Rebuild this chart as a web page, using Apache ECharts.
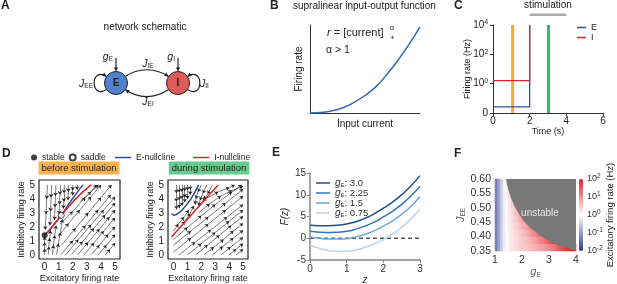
<!DOCTYPE html>
<html>
<head>
<meta charset="utf-8">
<script src="https://cdn.jsdelivr.net/npm/echarts@6/dist/echarts.min.js"></script>
<style>
html, body { margin: 0; padding: 0; background: #fff; }
#main { width: 617px; height: 284px; }
</style>
</head>
<body>
<div id="main"></div>
<script>
// ---- B: supralinear input-output curve (arbitrary units)
const inputCurrent = [0, 0.1, 0.2, 0.3, 0.4, 0.5, 0.6, 0.7, 0.8, 0.9, 1.0];
const firingRateB = [0, 0.005, 0.025, 0.06, 0.12, 0.2, 0.3, 0.44, 0.6, 0.78, 0.98];

// ---- C: firing-rate time course (Hz); the bottom of the axis (1e-2) is labelled 0
const timeE = [0, 2, 2];
const rateE = [0.026, 0.026, 10000];
const timeI = [0, 2, 2];
const rateI = [1.6, 1.6, 10000];
const markerTimes = [1.07, 3.03];
const markerColors = ['#f6a83b', '#2fba6c'];
const stimWindow = [2, 4];
const rateRange = [0.01, 10000];
const rateTickExp = [-2, 0, 2, 4];

// ---- D: phase planes
const flowTicks = [0, 1, 2, 3, 4, 5];
const stablePt = [[0, 1.4]];
const saddlePt = [[1.18, 2.82]];
const eNullBefore = [[0, 1.4], [0.5, 1.95], [1.18, 2.82], [1.9, 3.9], [2.72, 5.0]];
const iNullBefore = [[0, 1.4], [0.5, 1.97], [1.18, 2.82], [2.0, 3.78], [2.7, 4.48], [3.3, 5.0]];
const eNullDuring = [[-0.15, 2.95], [0.05, 2.83], [0.35, 2.98], [0.7, 3.3], [1.25, 4.0], [1.8, 5.0]];
const iNullDuring = [[-0.15, 1.27], [3.2, 5.0]];

const flowBefore = [
  [[0.2, 5.0], [0.15, 4.0], [0.1, 2.9], [0.04, 1.8]],
  [[0.5, 5.0], [0.46, 4.1], [0.42, 3.1], [0.38, 2.1]],
  [[0.8, 5.0], [0.77, 4.2], [0.74, 3.4], [0.7, 2.5]],
  [[1.1, 5.0], [1.08, 4.3], [1.06, 3.6], [1.03, 2.9]],
  [[1.4, 5.0], [1.38, 4.4], [1.36, 3.8], [1.33, 3.3]],
  [[1.7, 5.0], [1.68, 4.5], [1.66, 3.9]],
  [[2.0, 5.0], [1.99, 4.6], [1.98, 4.25]],
  [[2.3, 5.0], [2.3, 4.65]],
  [[0.0, 0.0], [0.0, 0.45], [0.0, 0.9], [0.0, 1.3]],
  [[0.25, 0.0], [0.3, 0.6], [0.36, 1.2], [0.42, 1.75]],
  [[0.55, 0.0], [0.63, 0.7], [0.72, 1.4], [0.82, 2.1]],
  [[0.85, 0.0], [0.98, 0.8], [1.12, 1.6], [1.27, 2.55]],
  [[1.15, 0.0], [2.0, 1.0], [2.9, 2.1], [3.8, 3.2], [4.7, 4.3]],
  [[1.5, 0.0], [2.4, 1.1], [3.3, 2.15], [4.2, 3.2], [5.0, 4.15]],
  [[1.9, 0.0], [2.7, 0.95], [3.5, 1.9], [4.3, 2.85], [5.0, 3.7]],
  [[2.35, 0.0], [3.1, 0.9], [3.9, 1.85], [4.6, 2.7], [5.0, 3.2]],
  [[2.8, 0.0], [3.5, 0.85], [4.2, 1.7], [5.0, 2.65]],
  [[3.3, 0.0], [3.9, 0.7], [4.5, 1.45], [5.0, 2.0]],
  [[3.8, 0.0], [4.4, 0.7], [5.0, 1.45]],
  [[4.3, 0.0], [4.65, 0.4], [5.0, 0.85]],
  [[0.95, 1.3], [1.7, 2.25], [2.5, 3.2], [3.3, 4.15], [4.0, 5.0]],
  [[1.1, 2.2], [2.0, 3.1], [2.9, 4.1], [3.7, 5.0]],
  [[1.2, 0.7], [2.2, 1.9], [3.1, 3.0], [4.0, 4.1], [4.75, 5.0]],
  [[2.5, 3.8], [3.3, 4.5], [3.8, 5.0]]
];
const flowDuring = [
  [[0.2, 5.0], [0.2, 4.4], [0.2, 3.8], [0.2, 3.25]],
  [[0.4, 5.0], [0.4, 4.45], [0.4, 3.9], [0.4, 3.35]],
  [[0.6, 5.0], [0.6, 4.5], [0.6, 4.0], [0.6, 3.5]],
  [[0.8, 5.0], [0.8, 4.55], [0.8, 4.1], [0.8, 3.75]],
  [[1.0, 5.0], [1.0, 4.6], [1.0, 4.0]],
  [[1.2, 5.0], [1.2, 4.65], [1.2, 4.3]],
  [[2.0, 5.0], [1.75, 4.5], [1.6, 4.0], [1.55, 3.6]],
  [[2.4, 5.0], [2.1, 4.4], [1.9, 3.9], [1.8, 3.5]],
  [[2.8, 5.0], [2.45, 4.35], [2.2, 3.95], [2.1, 3.85]],
  [[0.0, 1.7], [0.35, 2.2], [0.75, 2.7], [1.1, 3.2]],
  [[0.4, 1.85], [0.8, 2.4], [1.2, 2.95], [1.45, 3.5]],
  [[0.0, 0.2], [1.25, 1.2], [2.5, 2.2], [3.75, 3.2], [5.0, 4.2]],
  [[0.0, 0.7], [1.25, 1.7], [2.5, 2.7], [3.75, 3.7], [5.0, 4.7]],
  [[0.0, 1.1], [1.0, 1.95], [2.0, 2.8], [3.0, 3.6], [4.2, 4.5], [4.9, 5.0]],
  [[0.4, 0.0], [1.55, 0.9], [2.7, 1.8], [3.85, 2.7], [5.0, 3.6]],
  [[1.0, 0.0], [2.0, 0.8], [3.0, 1.6], [4.0, 2.4], [5.0, 3.2]],
  [[1.6, 0.0], [2.45, 0.7], [3.3, 1.4], [4.15, 2.1], [5.0, 2.75]],
  [[2.2, 0.0], [2.9, 0.55], [3.6, 1.1], [4.3, 1.7], [5.0, 2.25]],
  [[2.8, 0.0], [3.55, 0.6], [4.3, 1.2], [5.0, 1.75]],
  [[3.4, 0.0], [4.1, 0.55], [5.0, 1.25]],
  [[4.0, 0.0], [4.5, 0.4], [5.0, 0.8]],
  [[4.5, 0.0], [5.0, 0.4]],
  [[1.8, 3.0], [2.6, 3.65], [3.4, 4.2], [4.2, 4.6], [5.0, 4.9]],
  [[2.5, 4.1], [3.2, 4.5], [4.0, 4.8], [4.4, 5.0]]
];

// ---- E: F(z) for several g_E
const zValues = [0, 0.25, 0.5, 0.75, 1, 1.25, 1.5, 1.75, 2, 2.25, 2.5, 2.75, 3];
const fG300 = [3.0, 2.9, 2.9, 3.0, 3.3, 3.8, 4.6, 5.6, 6.9, 8.3, 10.0, 12.0, 14.4];
const fG225 = [1.6, 1.4, 1.3, 1.4, 1.6, 2.1, 2.8, 3.7, 4.9, 6.2, 7.8, 9.7, 11.9];
const fG150 = [0.3, 0.0, -0.2, -0.2, -0.1, 0.3, 0.9, 1.7, 2.8, 4.0, 5.5, 7.3, 9.6];
const fG075 = [-1.6, -2.3, -2.8, -3.0, -3.0, -2.7, -2.1, -1.3, -0.3, 1.0, 2.5, 4.4, 6.8];
const eNames = ['gE: 3.0', 'gE: 2.25', 'gE: 1.5', 'gE: 0.75'];
const eColors = ['#1d4f8c', '#2f77b8', '#6ea6d6', '#b9d6ee'];

// ---- F: log10 excitatory rate over (g_E, J_EE); rows bottom -> top
const gCenters = ['1.05', '1.15', '1.25', '1.35', '1.45', '1.55', '1.65', '1.75', '1.85', '1.95',
  '2.05', '2.15', '2.25', '2.35', '2.45', '2.55', '2.65', '2.75', '2.85', '2.95',
  '3.05', '3.15', '3.25', '3.35', '3.45', '3.55', '3.65', '3.75', '3.85', '3.95'];
const jCenters = ['0.3625', '0.3875', '0.4125', '0.4375', '0.4625', '0.4875', '0.5125', '0.5375', '0.5625', '0.5875'];
const logRate = [
  [-1.3, -0.95, -0.5, -0.15, 0.05, 0.16, 0.24, 0.3, 0.36, 0.42, 0.47, 0.52, 0.57, 0.62, 0.68, 0.74, 0.8, 0.87, 0.94, 1.02, 1.1, 1.2, 1.3, 1.42, 1.54, 1.66, 1.78, 1.88, 1.95, 2.0],
  [-1.3, -0.95, -0.5, -0.15, 0.05, 0.16, 0.24, 0.31, 0.37, 0.43, 0.5, 0.57, 0.64, 0.72, 0.81, 0.91, 1.02, 1.14, 1.27, 1.41, 1.55, 1.68, 1.8],
  [-1.3, -0.95, -0.5, -0.15, 0.05, 0.16, 0.25, 0.33, 0.41, 0.49, 0.58, 0.68, 0.79, 0.91, 1.04, 1.18, 1.33, 1.47],
  [-1.3, -0.95, -0.5, -0.15, 0.05, 0.17, 0.28, 0.38, 0.48, 0.59, 0.71, 0.85, 1.0, 1.15, 1.3],
  [-1.3, -0.95, -0.5, -0.15, 0.07, 0.2, 0.32, 0.44, 0.58, 0.74, 0.91, 1.06],
  [-1.3, -0.95, -0.5, -0.15, 0.08, 0.23, 0.37, 0.52, 0.69, 0.86],
  [-1.3, -0.95, -0.5, -0.14, 0.1, 0.27, 0.44, 0.61],
  [-1.3, -0.95, -0.5, -0.13, 0.12, 0.32, 0.5],
  [-1.3, -0.95, -0.5, -0.12, 0.15, 0.37],
  [-1.3, -0.95, -0.5, -0.1, 0.18, 0.37]
];
const unstableG = [1.41, 1.5, 1.67, 1.85, 2.04, 2.3, 2.56, 2.85, 3.15, 3.45, 3.67, 4.0];
const unstableJ = [0.60, 0.56, 0.517, 0.485, 0.458, 0.432, 0.4125, 0.393, 0.378, 0.366, 0.36, 0.35];

const FONT = 'Liberation Sans, Arial, sans-serif';
const INK = '#222';

const zip = (a, b) => a.map((v, i) => [v, b[i]]);
// panel C is plotted on a decade axis: the y value is log10(rate)
const zipLog = (t, r) => t.map((v, i) => [v, Math.log10(r[i])]);
const toSegments = lines => {
  const out = [];
  lines.forEach(pts => {
    for (let i = 1; i < pts.length; i++) out.push({ coords: [pts[i - 1], pts[i]] });
  });
  return out;
};

const heatData = [];
logRate.forEach((row, j) => row.forEach((v, i) => heatData.push([i, j, v])));

function arrowHead(x, y, angle, size) {
  const s = size || 4.5;
  const a1 = angle + Math.PI * 0.85, a2 = angle - Math.PI * 0.85;
  return {
    type: 'polygon', silent: true, z: 100,
    shape: { points: [[x, y], [x + s * Math.cos(a1), y + s * Math.sin(a1)], [x + s * Math.cos(a2), y + s * Math.sin(a2)]] },
    style: { fill: INK }
  };
}
const txt = (x, y, text, extra, rotation) => ({
  type: 'text', x: x, y: y, silent: true, z: 100, rotation: rotation || 0,
  style: Object.assign({ text: text, fill: INK, fontSize: 10, fontFamily: FONT, align: 'left', verticalAlign: 'middle' }, extra || {})
});
const subRich = {
  i: { fontStyle: 'italic', fontSize: 10.5, fontFamily: FONT, fill: INK, color: INK },
  s: { fontSize: 6.5, fontFamily: FONT, verticalAlign: 'bottom', fill: INK, color: INK, padding: [5, 0, 0, 0] }
};
const curve = (x1, y1, c1x, c1y, c2x, c2y, x2, y2) => ({
  type: 'bezierCurve', silent: true, z: 100,
  shape: { x1: x1, y1: y1, cpx1: c1x, cpy1: c1y, cpx2: c2x, cpy2: c2y, x2: x2, y2: y2 },
  style: { stroke: INK, lineWidth: 1.2, fill: null }
});

const graphics = [
  // panel letters and titles
  txt(1, 6, 'A', { fontSize: 12, fontWeight: 'bold' }),
  txt(270, 6, 'B', { fontSize: 12, fontWeight: 'bold' }),
  txt(454, 6, 'C', { fontSize: 12, fontWeight: 'bold' }),
  txt(2, 154, 'D', { fontSize: 12, fontWeight: 'bold' }),
  txt(272, 153, 'E', { fontSize: 12, fontWeight: 'bold' }),
  txt(454, 154, 'F', { fontSize: 12, fontWeight: 'bold' }),
  txt(145, 27, 'network schematic', { align: 'center' }),
  txt(293, 6, 'supralinear input-output function'),
  // schematic
  curve(125.4, 76.4, 138, 67.5, 155, 67.5, 168.6, 76.4),
  arrowHead(168.6, 76.4, Math.atan2(8.9, 13.6)),
  curve(168.6, 89.6, 155, 99, 138, 99, 125.4, 89.6),
  arrowHead(125.4, 89.6, Math.atan2(-9.4, -12.6)),
  curve(106.6, 89.6, 90, 100, 90, 66, 106.6, 76.4),
  arrowHead(106.6, 76.4, Math.atan2(10.4, 16.6)),
  curve(187.4, 89.6, 204, 100, 204, 66, 187.4, 76.4),
  arrowHead(187.4, 76.4, Math.atan2(10.4, -16.6)),
  { type: 'line', silent: true, z: 100, shape: { x1: 116, y1: 58, x2: 116, y2: 68 }, style: { stroke: INK, lineWidth: 1.2 } },
  arrowHead(116, 71.5, Math.PI / 2),
  { type: 'line', silent: true, z: 100, shape: { x1: 178, y1: 58, x2: 178, y2: 68 }, style: { stroke: INK, lineWidth: 1.2 } },
  arrowHead(178, 71.5, Math.PI / 2),
  { type: 'circle', silent: true, z: 100, shape: { cx: 116, cy: 83, r: 11.5 }, style: { fill: '#5282cc', stroke: INK, lineWidth: 1 } },
  { type: 'circle', silent: true, z: 100, shape: { cx: 178, cy: 83, r: 11.5 }, style: { fill: '#e05a5c', stroke: INK, lineWidth: 1 } },
  txt(116, 83, 'E', { align: 'center', fontWeight: 'bold', fontSize: 10 }),
  txt(178, 83, 'I', { align: 'center', fontWeight: 'bold', fontSize: 10 }),
  txt(113, 57, '{i|g}{s|E}', { align: 'right', rich: subRich }),
  txt(175, 57, '{i|g}{s|I}', { align: 'right', rich: subRich }),
  txt(148, 64, '{i|J}{s|IE}', { align: 'center', rich: subRich }),
  txt(148, 102, '{i|J}{s|EI}', { align: 'center', rich: subRich }),
  txt(93, 84, '{i|J}{s|EE}', { align: 'right', rich: subRich }),
  txt(200, 84, '{i|J}{s|II}', { rich: subRich }),
  // panel B annotations
  txt(327, 33, '{i|r} = [current]', { fontSize: 11, rich: { i: { fontStyle: 'italic', fontSize: 11, fontFamily: FONT } } }),
  txt(390, 28, 'α', { fontSize: 7 }),
  txt(390, 38, '+', { fontSize: 8 }),
  txt(326, 50, 'α > 1', { fontSize: 10.5 }),
  // panel C axis title
  txt(468, 69, 'Firing rate (Hz)', { align: 'center', fontSize: 9 }, Math.PI / 2),
  // panel D headers
  txt(79, 168, 'before stimulation', { align: 'center', fontSize: 9.5, backgroundColor: '#f6b352', padding: [2, 3, 1, 3] }),
  txt(209, 168, 'during stimulation', { align: 'center', fontSize: 9.5, backgroundColor: '#66cb8d', padding: [2, 3, 1, 3] }),
  // panel F
  txt(540, 213, 'unstable', { align: 'center', fill: '#e6e6e6', fontSize: 10 }),
  txt(610, 215, 'Excitatory firing rate (Hz)', { align: 'center', fontSize: 9.5 }, Math.PI / 2)
];

const plainAxis = (o) => Object.assign({
  splitLine: { show: false },
  axisLine: { show: true, onZero: false, lineStyle: { color: '#333', width: 1 } },
  axisTick: { show: true, length: 3, lineStyle: { color: '#333' } },
  axisLabel: { fontSize: 10, color: INK, margin: 3, fontFamily: FONT },
  nameLocation: 'middle',
  nameTextStyle: { fontSize: 9, color: INK, fontFamily: FONT }
}, o);

const dX = g => plainAxis({
  gridIndex: g, type: 'value', min: -0.4, max: 5.35,
  axisLine: { show: false }, axisTick: { show: false },
  axisLabel: { customValues: flowTicks, fontSize: 10, color: INK, margin: 3 },
  name: 'Excitatory firing rate', nameGap: 15
});
const dY = g => plainAxis({
  gridIndex: g, type: 'value', min: -0.3, max: 5.35,
  axisLine: { show: false }, axisTick: { show: false },
  axisLabel: { customValues: flowTicks, fontSize: 10, color: INK, margin: 4 },
  name: 'Inhibitory firing rate', nameGap: 12
});

const supRich = { e: { fontSize: 6.5, verticalAlign: 'top', padding: [0, 0, 5, 0] } };

const grids = [
  { left: 310, top: 25, width: 110, height: 88 },
  { left: 493, top: 25, width: 110, height: 88 },
  { left: 39, top: 180, width: 81, height: 79, show: true, borderColor: '#222', borderWidth: 1.2 },
  { left: 168, top: 180, width: 80, height: 79, show: true, borderColor: '#222', borderWidth: 1.2 },
  { left: 310, top: 173, width: 110, height: 87 },
  { left: 495, top: 179, width: 81, height: 72 },
  { left: 495, top: 179, width: 81, height: 72 },
  { left: 579, top: 179, width: 4, height: 72 }
].map(g => Object.assign({ outerBoundsMode: 'none', containLabel: false }, g));

const flowSeries = (lines, g) => ({
  type: 'lines', coordinateSystem: 'cartesian2d', xAxisIndex: g, yAxisIndex: g,
  data: toSegments(lines), symbol: ['none', 'arrow'], symbolSize: 3.5,
  lineStyle: { color: '#222', width: 0.6, opacity: 1 }, silent: true, z: 2
});
const nullSeries = (name, data, color, g) => ({
  name: name, type: 'line', xAxisIndex: g, yAxisIndex: g, data: data, smooth: 0.4,
  symbol: 'none', lineStyle: { color: color, width: 1.5 }, itemStyle: { color: color }, z: 4, silent: true
});

const series = [
  // B
  { type: 'line', xAxisIndex: 0, yAxisIndex: 0, data: zip(inputCurrent, firingRateB), smooth: true, symbol: 'none',
    lineStyle: { color: '#2b6cb3', width: 1.5 }, silent: true },
  // C
  ...markerTimes.map((t, k) => ({ type: 'line', xAxisIndex: 1, yAxisIndex: 1, data: zipLog([t, t], rateRange), symbol: 'none',
    lineStyle: { color: markerColors[k], width: 3 }, silent: true, z: 1 })),
  { name: 'E', type: 'line', xAxisIndex: 1, yAxisIndex: 1, data: zipLog(timeE, rateE), symbol: 'none',
    lineStyle: { color: '#2c4f9f', width: 1.3 }, itemStyle: { color: '#2c4f9f' }, silent: true, z: 3 },
  { name: 'I', type: 'line', xAxisIndex: 1, yAxisIndex: 1, data: zipLog(timeI, rateI), symbol: 'none',
    lineStyle: { color: '#d9262e', width: 1.3 }, itemStyle: { color: '#d9262e' }, silent: true, z: 3 },
  // D
  flowSeries(flowBefore, 2),
  flowSeries(flowDuring, 3),
  nullSeries('E-nullcline', eNullBefore, '#2a4ea2', 2),
  nullSeries('I-nullcline', iNullBefore, '#e0222b', 2),
  nullSeries('E-nullcline', eNullDuring, '#2a4ea2', 3),
  nullSeries('I-nullcline', iNullDuring, '#e0222b', 3),
  { name: 'stable', type: 'scatter', xAxisIndex: 2, yAxisIndex: 2, data: stablePt, symbolSize: 6,
    itemStyle: { color: '#111' }, z: 5, silent: true },
  { name: 'saddle', type: 'scatter', xAxisIndex: 2, yAxisIndex: 2, data: saddlePt, symbolSize: 6,
    itemStyle: { color: '#fff', borderColor: '#111', borderWidth: 1 }, z: 5, silent: true },
  // E
  { type: 'line', xAxisIndex: 4, yAxisIndex: 4, data: [[0, 0], [3, 0]], symbol: 'none',
    lineStyle: { color: '#555', width: 1.3, type: [4, 3] }, silent: true },
  ...[fG300, fG225, fG150, fG075].map((f, k) => ({
    name: eNames[k], type: 'line', xAxisIndex: 4, yAxisIndex: 4, data: zip(zValues, f), smooth: true, symbol: 'none',
    lineStyle: { color: eColors[k], width: 1.5 }, itemStyle: { color: eColors[k] }, silent: true, z: 3
  })),
  // F
  { type: 'heatmap', xAxisIndex: 5, yAxisIndex: 5, data: heatData, silent: true, itemStyle: { borderWidth: 0 }, z: 1 },
  { type: 'line', xAxisIndex: 6, yAxisIndex: 6, data: zip(unstableG, unstableJ), smooth: 0.3, symbol: 'none',
    lineStyle: { width: 0 }, areaStyle: { color: '#787878', opacity: 1, origin: 'end' }, silent: true, z: 3 }
];
const heatIndex = series.findIndex(s => s.type === 'heatmap');

const lineIcon = 'rect';

const option = {
  animation: false,
  textStyle: { fontFamily: FONT },
  grid: grids,
  xAxis: [
    plainAxis({ gridIndex: 0, type: 'value', min: 0, max: 1, axisTick: { show: false }, axisLabel: { show: false },
      name: 'Input current', nameGap: 6, nameTextStyle: { fontSize: 10, color: INK } }),
    plainAxis({ gridIndex: 1, type: 'value', min: 0, max: 6, interval: 2, name: 'Time (s)', nameGap: 14 }),
    dX(2), dX(3),
    plainAxis({ gridIndex: 4, type: 'value', min: 0, max: 3, interval: 1,
      axisLine: { show: true, onZero: false, lineStyle: { color: '#888', width: 1.5 } },
      axisTick: { length: 3, lineStyle: { color: '#888' } },
      axisLabel: { fontSize: 10, color: '#333', margin: 4 },
      name: 'z', nameGap: 14, nameTextStyle: { fontSize: 10, fontStyle: 'italic', color: '#333' } }),
    { gridIndex: 5, type: 'category', data: gCenters, show: false },
    plainAxis({ gridIndex: 6, type: 'value', min: 1, max: 4, interval: 1, axisLine: { show: false },
      axisTick: { show: false }, axisLabel: { fontSize: 10.5, color: '#333', margin: 4 },
      name: '{i|g}{s|E}', nameGap: 13,
      nameTextStyle: { fontSize: 10, rich: { i: { fontStyle: 'italic', fontSize: 11 }, s: { fontSize: 6.5, verticalAlign: 'bottom', padding: [5, 0, 0, 0] } } } }),
    { gridIndex: 7, type: 'value', show: false }
  ],
  yAxis: [
    plainAxis({ gridIndex: 0, type: 'value', min: 0, max: 1, axisTick: { show: false }, axisLabel: { show: false },
      name: 'Firing rate', nameGap: 6, nameTextStyle: { fontSize: 10, color: INK } }),
    // decade axis: tick labels are drawn below from rateTickExp
    plainAxis({ gridIndex: 1, type: 'value', min: -2, max: 4, interval: 2, axisLabel: { show: false } }),
    dY(2), dY(3),
    plainAxis({ gridIndex: 4, type: 'value', min: -5, max: 15, interval: 5,
      axisLine: { show: true, onZero: false, lineStyle: { color: '#888', width: 1.5 } },
      axisTick: { length: 3, lineStyle: { color: '#888' } },
      axisLabel: { fontSize: 10, color: '#333', margin: 4 },
      name: 'F(z)', nameGap: 20, nameTextStyle: { fontSize: 10, fontStyle: 'italic', color: '#333' } }),
    { gridIndex: 5, type: 'category', data: jCenters, show: false },
    plainAxis({ gridIndex: 6, type: 'value', min: 0.35, max: 0.6, interval: 0.05, axisLine: { show: false },
      axisTick: { show: false }, axisLabel: { fontSize: 10.5, color: '#333', margin: 4, formatter: v => v.toFixed(2) },
      name: '{i|J}{s|EE}', nameGap: 28,
      nameTextStyle: { fontSize: 10, rich: { i: { fontStyle: 'italic', fontSize: 11 }, s: { fontSize: 6.5, verticalAlign: 'bottom', padding: [5, 0, 0, 0] } } } }),
    plainAxis({ gridIndex: 7, type: 'value', min: -2, max: 2, interval: 1, position: 'right',
      axisLine: { show: false }, axisTick: { show: false },
      axisLabel: { fontSize: 9, color: '#333', margin: 4, rich: supRich, formatter: v => '10{e|' + v + '}' } })
  ],
  legend: [
    { data: ['E', 'I'], left: 572, top: 18, orient: 'vertical', icon: lineIcon, itemWidth: 9, itemHeight: 1.5, itemGap: 1,
      textStyle: { fontSize: 9, color: INK, lineHeight: 9 }, selectedMode: false },
    { data: ['stable', 'saddle'], left: 26, top: 148, itemWidth: 6, itemHeight: 6, itemGap: 4,
      textStyle: { fontSize: 8.5, color: INK }, selectedMode: false },
    { data: ['E-nullcline', 'I-nullcline'], left: 110, top: 148, icon: lineIcon, itemWidth: 16, itemHeight: 1.5, itemGap: 18,
      textStyle: { fontSize: 8.5, color: INK }, selectedMode: false },
    { data: eNames, left: 311, top: 173, orient: 'vertical', icon: lineIcon, itemWidth: 14, itemHeight: 1.5, itemGap: 0,
      selectedMode: false,
      formatter: n => '{i|g}{s|E}{t|' + n.slice(2) + '}',
      textStyle: { fontSize: 9.5, color: '#333',
        rich: { i: { fontStyle: 'italic', fontSize: 10, color: '#333', lineHeight: 10 },
          s: { fontSize: 6, color: '#333', verticalAlign: 'bottom', lineHeight: 10, padding: [4, 0, 0, 0] },
          t: { fontSize: 9.5, color: '#333', lineHeight: 10 } } } }
  ],
  visualMap: {
    type: 'continuous', seriesIndex: heatIndex, min: -2, max: 2, left: 579, top: 179,
    itemWidth: 4, itemHeight: 72, padding: 0, calculable: false, hoverLink: false,
    inRange: { color: ['#2b3990', '#ffffff', '#e41e26'] }
  },
  series: series,
  graphic: { elements: graphics }
};

const chart = echarts.init(document.getElementById('main'));
chart.setOption(option);

// panel C: stimulation bar on the time axis and decade tick labels
const p0 = chart.convertToPixel({ xAxisIndex: 1, yAxisIndex: 1 }, [stimWindow[0], 0]);
const p1 = chart.convertToPixel({ xAxisIndex: 1, yAxisIndex: 1 }, [stimWindow[1], 0]);
graphics.push(
  { type: 'rect', silent: true, z: 100, shape: { x: p0[0], y: 13.5, width: p1[0] - p0[0], height: 2.5 }, style: { fill: '#aaaaaa' } },
  txt((p0[0] + p1[0]) / 2, 5, 'stimulation', { align: 'center' })
);
rateTickExp.forEach(e => {
  const p = chart.convertToPixel({ xAxisIndex: 1, yAxisIndex: 1 }, [0, e]);
  graphics.push(e <= -2
    ? txt(p[0] - 5, p[1], '0', { align: 'right' })
    : txt(p[0] - 5, p[1], '10{e|' + e + '}', { align: 'right', rich: { e: { fontSize: 6.5, fontFamily: FONT, fill: INK, verticalAlign: 'top', padding: [0, 0, 5, 0] } } }));
});
chart.setOption({ graphic: { elements: graphics } });
</script>
</body>
</html>
